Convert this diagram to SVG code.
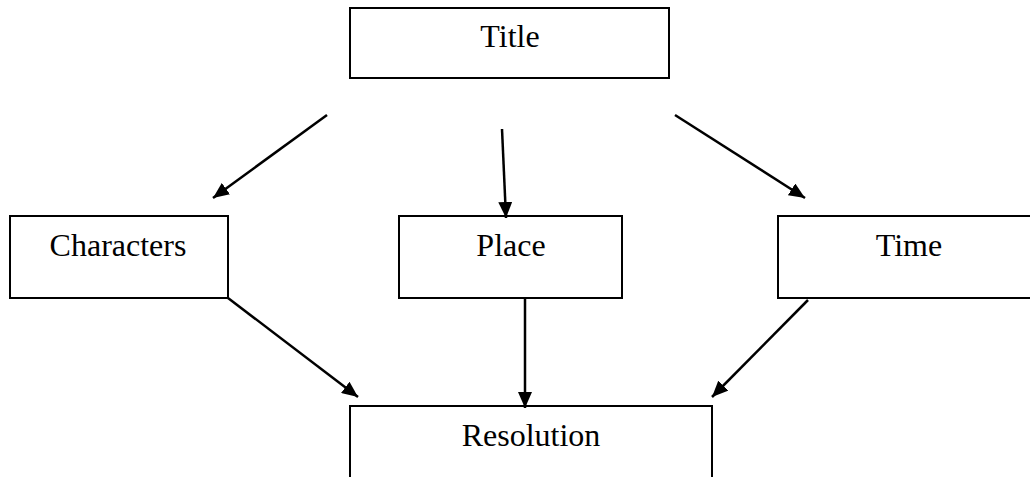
<svg xmlns="http://www.w3.org/2000/svg" width="1030" height="477" viewBox="0 0 1030 477">
<style>
.box{fill:#fff;stroke:#000;stroke-width:2}
.lbl{font-family:"Liberation Serif",serif;font-size:32px;fill:#000;text-anchor:middle}
.edge{stroke:#000;stroke-width:2.5;fill:none;marker-end:url(#ah)}
</style>
<defs>
<marker id="ah" markerUnits="userSpaceOnUse" markerWidth="18" markerHeight="14" refX="16" refY="7" orient="auto">
<path d="M0,0 L16,7 L0,14 Z" fill="#000"/>
</marker>
</defs>
<rect width="1030" height="477" fill="#fff"/>
<g id="title"><rect class="box" x="350" y="8" width="319" height="70"/><text class="lbl" x="510" y="47">Title</text></g>
<g id="characters"><rect class="box" x="10" y="216" width="218" height="82"/><text class="lbl" x="118" y="256">Characters</text></g>
<g id="place"><rect class="box" x="399" y="216" width="223" height="82"/><text class="lbl" x="511" y="256">Place</text></g>
<g id="time"><rect class="box" x="778" y="216" width="262" height="82"/><text class="lbl" x="909" y="256">Time</text></g>
<g id="resolution"><rect class="box" x="350" y="406" width="362" height="90"/><text class="lbl" x="531" y="446">Resolution</text></g>
<g id="connectors">
<line class="edge" x1="327" y1="115" x2="213" y2="198"/>
<line class="edge" x1="502" y1="129" x2="506" y2="218"/>
<line class="edge" x1="675" y1="115" x2="805" y2="198"/>
<line class="edge" x1="228" y1="298" x2="358" y2="397"/>
<line class="edge" x1="525" y1="298" x2="525" y2="408"/>
<line class="edge" x1="808" y1="300" x2="712" y2="397"/>
</g>
</svg>
